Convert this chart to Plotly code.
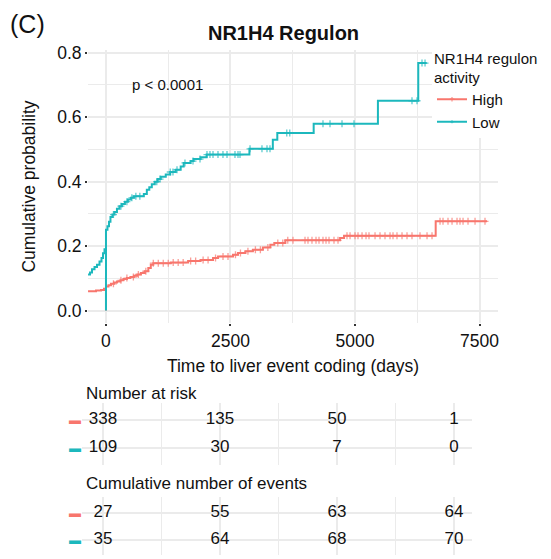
import numpy as np
import plotly.graph_objects as go

# ---------------- data ----------------
groups = ["High", "Low"]
colors = {"High": "#F8766D", "Low": "#1CB8BD"}

high_times = [-360, -200, -100, -40, 0, 0, 50, 100, 160, 220, 290, 350, 420, 490, 560, 630,
              700, 780, 850, 900, 950, 1300, 1650, 1900, 2150, 2250, 2550, 2650, 2800, 2950,
              3150, 3300, 3380, 3600, 4700, 4780, 6620, 7650]
high_cumprob = [0.060, 0.062, 0.064, 0.068, 0.0, 0.075, 0.079, 0.083, 0.087, 0.090, 0.094, 0.098,
                0.101, 0.104, 0.108, 0.112, 0.117, 0.122, 0.132, 0.142, 0.147, 0.149, 0.154,
                0.157, 0.163, 0.168, 0.173, 0.179, 0.184, 0.189, 0.196, 0.204, 0.210, 0.218,
                0.225, 0.232, 0.277, 0.277]

low_times = [-360, -320, -280, -230, -180, -130, -90, -60, -30, 0, 0, 30, 60, 90, 130, 170, 220,
             270, 320, 380, 440, 500, 560, 760, 820, 870, 920, 980, 1040, 1100, 1200, 1290, 1400,
             1500, 1560, 1700, 1760, 1900, 2020, 2880, 3350, 3440, 4170, 5460, 6270, 6440]
low_cumprob = [0.112, 0.118, 0.128, 0.135, 0.142, 0.152, 0.163, 0.178, 0.190, 0.0, 0.251, 0.262,
               0.276, 0.290, 0.298, 0.306, 0.316, 0.324, 0.331, 0.338, 0.345, 0.350, 0.355,
               0.362, 0.375, 0.383, 0.392, 0.400, 0.408, 0.415, 0.422, 0.430, 0.437, 0.447,
               0.458, 0.464, 0.470, 0.476, 0.484, 0.502, 0.530, 0.551, 0.580, 0.651, 0.768, 0.768]

high_censor = [150, 300, 420, 550, 650, 800, 950, 1050, 1150, 1250, 1350, 1450, 1550, 1700,
               1800, 1950, 2050, 2200, 2350, 2450, 2600, 2700, 2850, 3000, 3100, 3250, 3450,
               3550, 3650, 3755, 3996, 4056, 4136, 4217, 4277, 4357, 4418, 4478, 4578, 4659,
               4839, 4900, 5000, 5060, 5141, 5221, 5281, 5402, 5502, 5602, 5703, 5763, 5843,
               5944, 6044, 6144, 6305, 6446, 6546, 6707, 6767, 6867, 6948, 7048, 7108, 7169,
               7269, 7410, 7610]
low_censor = [150, 300, 420, 520, 600, 680, 1020, 1085, 1290, 1345, 1426, 1586, 1747, 1888,
              2028, 2088, 2149, 2249, 2349, 2430, 2590, 2651, 2691, 2892, 3132, 3233, 3293,
              3630, 3690, 4357, 4498, 4739, 4980, 6144, 6245, 6345, 6406]

risk_times = [0, 2500, 5000, 7500]
risk_high = [338, 135, 50, 1]
risk_low = [109, 30, 7, 0]
events_high = [27, 55, 63, 64]
events_low = [35, 64, 68, 70]

title_text = "NR1H4 Regulon"
pval_text = "p < 0.0001"

# ---------------- geometry helpers ----------------
W, H = 551, 559
def px(x):
    return x / W
def py(y):
    return 1 - y / H

FONT = "Liberation Sans, Arial, sans-serif"
GRID = "#EBEBEB"
TXT = "#111"

fig = go.Figure()

series = {
    "High": (high_times, high_cumprob, high_censor),
    "Low": (low_times, low_cumprob, low_censor),
}

for g in groups:
    t, p, c = series[g]
    t = np.asarray(t, float)
    p = np.asarray(p, float)
    c = np.asarray(c, float)
    idx = np.searchsorted(t, c, side="right") - 1
    cp = p[idx]
    all_t = np.concatenate([t, c])
    all_p = np.concatenate([p, cp])
    all_s = np.concatenate([np.zeros(len(t)), np.full(len(c), 5.0)])
    order = np.argsort(all_t, kind="stable")
    fig.add_trace(go.Scatter(
        x=all_t[order], y=all_p[order], mode="lines+markers", name=g,
        line=dict(color=colors[g], width=2, shape="hv"),
        marker=dict(symbol="cross-thin", size=all_s[order], color=colors[g],
                    line=dict(width=1.3, color=colors[g])),
        xaxis="x", yaxis="y", hoverinfo="skip",
    ))

# risk table traces
for vals, yax, xax in [((risk_high, risk_low), "y2", "x2"), ((events_high, events_low), "y3", "x3")]:
    for row, v in zip([2, 1], vals):
        fig.add_trace(go.Scatter(
            x=risk_times, y=[row] * len(v), text=[str(a) for a in v], mode="text",
            textfont=dict(size=17, color=TXT, family=FONT), textposition="middle center",
            xaxis=xax, yaxis=yax, showlegend=False, hoverinfo="skip",
        ))

main_dom_x = [px(88), px(498)]
main_dom_y = [py(323), py(50)]
tab_dom_x = [px(82), px(472)]
tab1_dom_y = [py(465), py(403)]
tab2_dom_y = [py(555), py(497)]

axis_common = dict(showline=False, zeroline=False, automargin=False, gridcolor=GRID, gridwidth=1.6)

dash = lambda col: f'<span style="color:{col}">▬</span>'

fig.update_layout(
    width=W, height=H, margin=dict(l=0, r=0, t=0, b=0),
    paper_bgcolor="white", plot_bgcolor="white",
    font=dict(family=FONT, color=TXT),
    title=dict(text=f"<b>{title_text}</b>", x=px(283.5), xanchor="center", y=py(33), yanchor="middle",
               font=dict(size=20, color=TXT, family=FONT)),
    xaxis=dict(domain=main_dom_x, range=[-361, 7871], tickmode="linear", tick0=0, dtick=2500,
               ticks="outside", ticklen=2, tickwidth=2, tickcolor="#333",
               tickfont=dict(size=17.5, color=TXT),
               minor=dict(showgrid=True, dtick=1250, tick0=0, gridcolor=GRID, gridwidth=1.1),
               title=dict(text="Time to liver event coding (days)", font=dict(size=17.5, color=TXT),
                          standoff=9),
               anchor="y", **axis_common),
    yaxis=dict(domain=main_dom_y, range=[-0.0385, 0.8085], tickmode="linear", tick0=0, dtick=0.2,
               tickformat=".1f",
               ticks="outside", ticklen=2, tickwidth=2, tickcolor="#333",
               tickfont=dict(size=17.5, color=TXT),
               minor=dict(showgrid=True, dtick=0.1, tick0=0, gridcolor=GRID, gridwidth=1.1),
               title=dict(text="Cumulative probability", font=dict(size=17.5, color=TXT), standoff=17),
               anchor="x", **axis_common),
    xaxis2=dict(domain=tab_dom_x, range=[-449, 7885], tickmode="linear", tick0=0, dtick=2500,
                showticklabels=False, ticks="",
                minor=dict(showgrid=True, dtick=1250, tick0=0, gridcolor=GRID, gridwidth=1.1),
                anchor="y2", **axis_common),
    yaxis2=dict(domain=tab1_dom_y, range=[0.393, 2.607], tickmode="array", tickvals=[2, 1],
                ticktext=[dash(colors["High"]), dash(colors["Low"])], ticks="",
                tickfont=dict(size=12), anchor="x2", **axis_common),
    xaxis3=dict(domain=tab_dom_x, range=[-449, 7885], tickmode="linear", tick0=0, dtick=2500,
                showticklabels=False, ticks="",
                minor=dict(showgrid=True, dtick=1250, tick0=0, gridcolor=GRID, gridwidth=1.1),
                anchor="y3", **axis_common),
    yaxis3=dict(domain=tab2_dom_y, range=[0.43, 2.59], tickmode="array", tickvals=[2, 1],
                ticktext=[dash(colors["High"]), dash(colors["Low"])], ticks="",
                tickfont=dict(size=12), anchor="x3", **axis_common),
    legend=dict(x=px(432), y=py(44), xanchor="left", yanchor="top", bgcolor="white",
                title=dict(text="NR1H4 regulon<br>activity", font=dict(size=15, color=TXT)),
                font=dict(size=15, color=TXT), itemwidth=30, tracegroupgap=0),
    showlegend=True,
)

fig.add_annotation(text="(C)", xref="paper", yref="paper", x=px(8), y=py(24), xanchor="left",
                   yanchor="middle", showarrow=False, font=dict(size=25, color=TXT, family=FONT))
fig.add_annotation(text=pval_text, xref="x", yref="y", x=480, y=0.70, xanchor="left",
                   yanchor="middle", showarrow=False, font=dict(size=15, color=TXT, family=FONT))
fig.add_annotation(text="Number at risk", xref="paper", yref="paper", x=px(84), y=py(393),
                   xanchor="left", yanchor="middle", showarrow=False,
                   font=dict(size=17, color=TXT, family=FONT))
fig.add_annotation(text="Cumulative number of events", xref="paper", yref="paper", x=px(84), y=py(483),
                   xanchor="left", yanchor="middle", showarrow=False,
                   font=dict(size=17, color=TXT, family=FONT))

fig.write_html("out.html", config={"displayModeBar": False},
               post_script="document.body.style.margin='0px';")
